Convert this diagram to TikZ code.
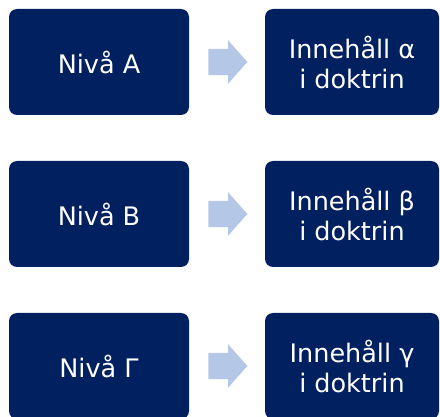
\documentclass[tikz,border=0pt]{standalone}
\usepackage{fontspec}
\setmainfont{DejaVu Sans}
\usetikzlibrary{positioning,shapes.arrows}
\definecolor{navy}{HTML}{002060}
\definecolor{lightarrow}{HTML}{B4C7E7}
\tikzset{
    level/.style={
        rectangle,
        rounded corners=8pt,
        fill=navy,
        text=white,
        minimum width=180pt,
        minimum height=106pt,
        inner sep=0pt,
        font=\fontsize{25.5}{30}\selectfont
    },
    content/.style={
        level,
        minimum width=174pt,
        align=center
    },
    flow/.style={
        single arrow,
        fill=lightarrow,
        minimum height=39pt,
        single arrow head extend=8.5pt,
        single arrow tip angle=97,
        inner xsep=0pt,
        inner ysep=13pt
    }
}

\begin{document}
\begin{tikzpicture}[x=1pt,y=-1pt]
    \useasboundingbox (0,0) rectangle (440,417);
    % Levels
    \node[level] (LA) at (99,62) {Nivå A};
    \node[level] (LB) at (99,214) {Nivå B};
    \node[level] (LC) at (99,366) {Nivå Γ};

    % Arrows
    \node[flow] (FA) at (222,62) {};
    \node[flow] (FB) at (222,214) {};
    \node[flow] (FC) at (222,366) {};

    % Contents
    \node[content] (CA) at (352,62) {Innehåll α\\i doktrin};
    \node[content] (CB) at (352,214) {Innehåll β\\i doktrin};
    \node[content] (CC) at (352,366) {Innehåll γ\\i doktrin};
\end{tikzpicture}
\end{document}
